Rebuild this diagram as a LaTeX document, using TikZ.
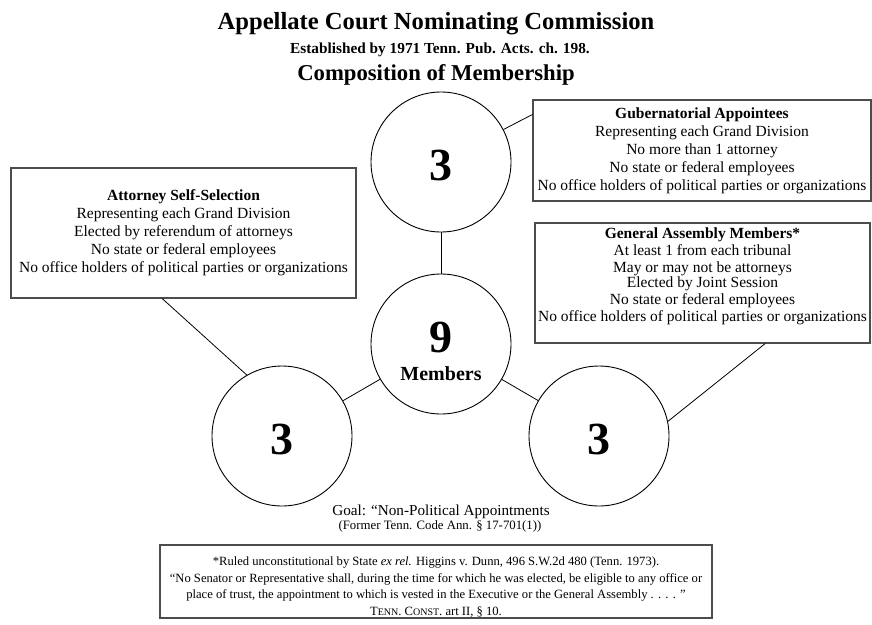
\documentclass[tikz,border=0pt]{standalone}
\usepackage{fontspec}
\setmainfont{Liberation Serif}

\newcommand{\fs}[2]{\fontsize{#1}{#2}\selectfont}

\begin{document}
\begin{tikzpicture}[x=1pt,y=-1pt,
	ring/.style={circle,draw,line width=0.9pt,minimum size=140pt,inner sep=0pt},
	big/.style={font=\bfseries\fs{46}{46},text height=37pt,text depth=0pt},
	infobox/.style={draw=black!70,line width=1.1pt,align=center,inner sep=0pt,font=\fs{15.5}{18}}]
	\useasboundingbox (0,0) rectangle (872,624);

	% headings
	\node[anchor=base,font=\bfseries\fs{24.6}{28}] (title) at (436,29) {Appellate Court Nominating Commission};
	\node[anchor=base,font=\bfseries\fs{15.3}{18}] (est) at (440,53) {Established by 1971 Tenn. Pub. Acts. ch. 198.};
	\node[anchor=base,font=\bfseries\fs{22.7}{26}] (comp) at (436,80) {Composition of Membership};

	% the four circles
	\node[ring,big] (gov) at (441,162) {3};
	\node[ring] (all) at (441,344) {};
	\node[anchor=base,font=\bfseries\fs{46}{46}] (nine) at (441,352) {9};
	\node[anchor=base,font=\bfseries\fs{20}{24}] (mem) at (441,380) {Members};
	\node[ring,big] (atty) at (282,436) {3};
	\node[ring,big] (gen) at (599,436) {3};

	% boxes
	\node[infobox,minimum width=338,minimum height=101] (gubbox) at (702,150.5)
		{\textbf{Gubernatorial Appointees}\\Representing each Grand Division\\No more than 1 attorney\\
		No state or federal employees\\No office holders of political parties or organizations};
	\node[infobox,minimum width=345,minimum height=130] (attbox) at (183.5,233)
		{\textbf{Attorney Self-Selection}\\Representing each Grand Division\\Elected by referendum of attorneys\\
		No state or federal employees\\No office holders of political parties or organizations};
	\node[infobox,minimum width=335,minimum height=120] (gabox) at (702.5,283) {};
	\node[align=center,font=\fs{15.5}{17}] (gatext) at (702.5,276)
		{\textbf{General Assembly Members*}\\At least 1 from each tribunal\\May or may not be attorneys\\[-2pt]
		Elected by Joint Session\\No state or federal employees\\No office holders of political parties or organizations};

	% connectors
	\draw[line width=0.8pt] (gov) -- (all);
	\draw[line width=0.8pt] (atty) -- (all);
	\draw[line width=0.8pt] (all) -- (gen);
	\draw[line width=0.8pt] (gov) -- (gubbox.168.5);
	\draw[line width=0.8pt] (attbox.252.5) -- (atty.120);
	\draw[line width=0.8pt] (gen.12.5) -- (gabox.316.6);

	% goal
	\node[anchor=base,font=\fs{15.2}{18}] (goal) at (441,515) {Goal: “Non-Political Appointments};
	\node[anchor=base,font=\fs{12.8}{15}] (goalref) at (440,529) {(Former Tenn. Code Ann. § 17-701(1))};

	% ruling
	\node[infobox,minimum width=552,minimum height=73] (ruling) at (436,581.5) {};
	\node[align=center,font=\fs{12.6}{16.7}] (rulingtext) at (436,587)
		{*Ruled unconstitutional by State \emph{ex rel.} Higgins v. Dunn, 496 S.W.2d 480 (Tenn. 1973).\\
		“No Senator or Representative shall, during the time for which he was elected, be eligible to any office or\\
		place of trust, the appointment to which is vested in the Executive or the General Assembly . . . . ”\\
		T{\fs{10}{12}ENN}. C{\fs{10}{12}ONST}. art II, § 10.};
\end{tikzpicture}
\end{document}
